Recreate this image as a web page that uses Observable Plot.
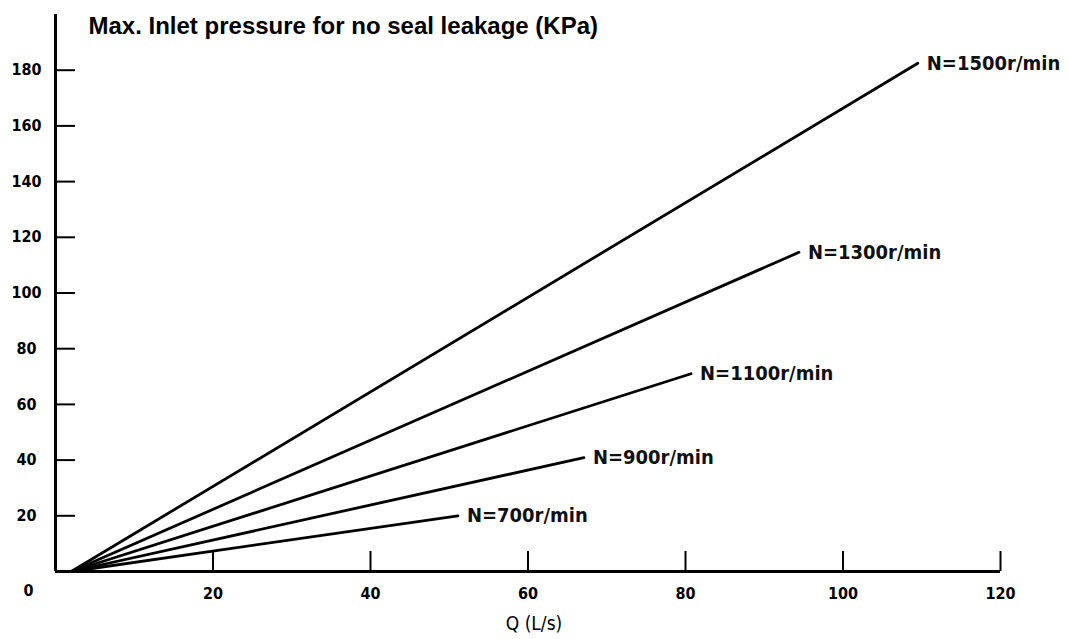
<!DOCTYPE html>
<html>
<head>
<meta charset="utf-8">
<script src="https://cdn.jsdelivr.net/npm/d3@7"></script>
<script src="https://cdn.jsdelivr.net/npm/@observablehq/plot@0.6"></script>
<style>
  html, body { margin: 0; padding: 0; background: #fff; }
  #chart svg { display: block; }
</style>
</head>
<body>
<div id="chart"></div>
<script>
// ---- data ----
const title = "Max. Inlet pressure for no seal leakage (KPa)";
const xLabel = "Q (L/s)";
const speedLabels = ["N=700r/min", "N=900r/min", "N=1100r/min", "N=1300r/min", "N=1500r/min"];
const qStart = [2, 2, 2, 2, 2];
const pStart = [0, 0, 0, 0, 0];
const qEnd = [51.1, 67.1, 80.7, 94.4, 109.5];
const pEnd = [20, 40.9, 71, 114.6, 182.5];
const xTicks = [20, 40, 60, 80, 100, 120];
const yTicks = [20, 40, 60, 80, 100, 120, 140, 160, 180];
const xDomain = [0, 120];
const yDomain = [0, 200];

// ---- tables ----
const linePts = speedLabels.flatMap((s, i) => [
  {series: s, q: qStart[i], p: pStart[i]},
  {series: s, q: qEnd[i], p: pEnd[i]}
]);
const ends = speedLabels.map((s, i) => ({series: s, q: qEnd[i], p: pEnd[i]}));

const labelFont = "'DejaVu Sans Condensed', 'DejaVu Sans', sans-serif";

const chart = Plot.plot({
  width: 1068,
  height: 639,
  marginLeft: 55,
  marginRight: 68,
  marginTop: 14,
  marginBottom: 68,
  style: {background: "#fff", color: "#000", overflow: "visible"},
  x: {domain: xDomain, axis: null},
  y: {domain: yDomain, axis: null},
  marks: [
    // axis lines
    Plot.ruleX([xDomain[0]], {y1: yDomain[0], y2: yDomain[1], stroke: "#000", strokeWidth: 3}),
    Plot.ruleY([yDomain[0]], {x1: xDomain[0], x2: xDomain[1], stroke: "#000", strokeWidth: 3}),
    // tick marks (pointing into the plot)
    Plot.ruleX(xTicks, {x: d => d, y1: yDomain[0], y2: yDomain[0], insetTop: -20, stroke: "#000", strokeWidth: 2}),
    Plot.ruleY(yTicks, {y: d => d, x1: xDomain[0], x2: xDomain[0], insetRight: -20, stroke: "#000", strokeWidth: 2}),
    // tick labels
    Plot.text(xTicks, {x: d => d, y: yDomain[0], text: d => String(d), dy: 22, fontSize: 16, fontWeight: "bold", fontFamily: labelFont, fill: "#000"}),
    Plot.text(yTicks, {x: xDomain[0], y: d => d, text: d => String(d), dx: -29, textAnchor: "middle", fontSize: 16, fontWeight: "bold", fontFamily: labelFont, fill: "#000"}),
    Plot.text([0], {x: xDomain[0], y: yDomain[0], text: d => String(d), dx: -27, dy: 19, textAnchor: "middle", fontSize: 16, fontWeight: "bold", fontFamily: labelFont, fill: "#000"}),
    // series lines
    Plot.line(linePts, {x: "q", y: "p", z: "series", stroke: "#000", strokeWidth: 2.8, strokeLinecap: "round"}),
    // series labels
    Plot.text(ends, {x: "q", y: "p", text: "series", textAnchor: "start", dx: 9, fontSize: 20, fontFamily: labelFont, fontWeight: "bold", fill: "#111"}),
    // title
    Plot.text([title], {frameAnchor: "top-left", text: d => d, textAnchor: "start", dx: 33, dy: 12, lineAnchor: "middle", fontSize: 24, fontWeight: "bold", fontFamily: "'Liberation Sans', Arial, sans-serif", fill: "#000"}),
    // x axis label
    Plot.text([xLabel], {frameAnchor: "bottom", text: d => d, dx: 6, dy: 58, fontSize: 19, fontFamily: labelFont, fill: "#000"})
  ]
});
document.getElementById("chart").appendChild(chart);
</script>
</body>
</html>
